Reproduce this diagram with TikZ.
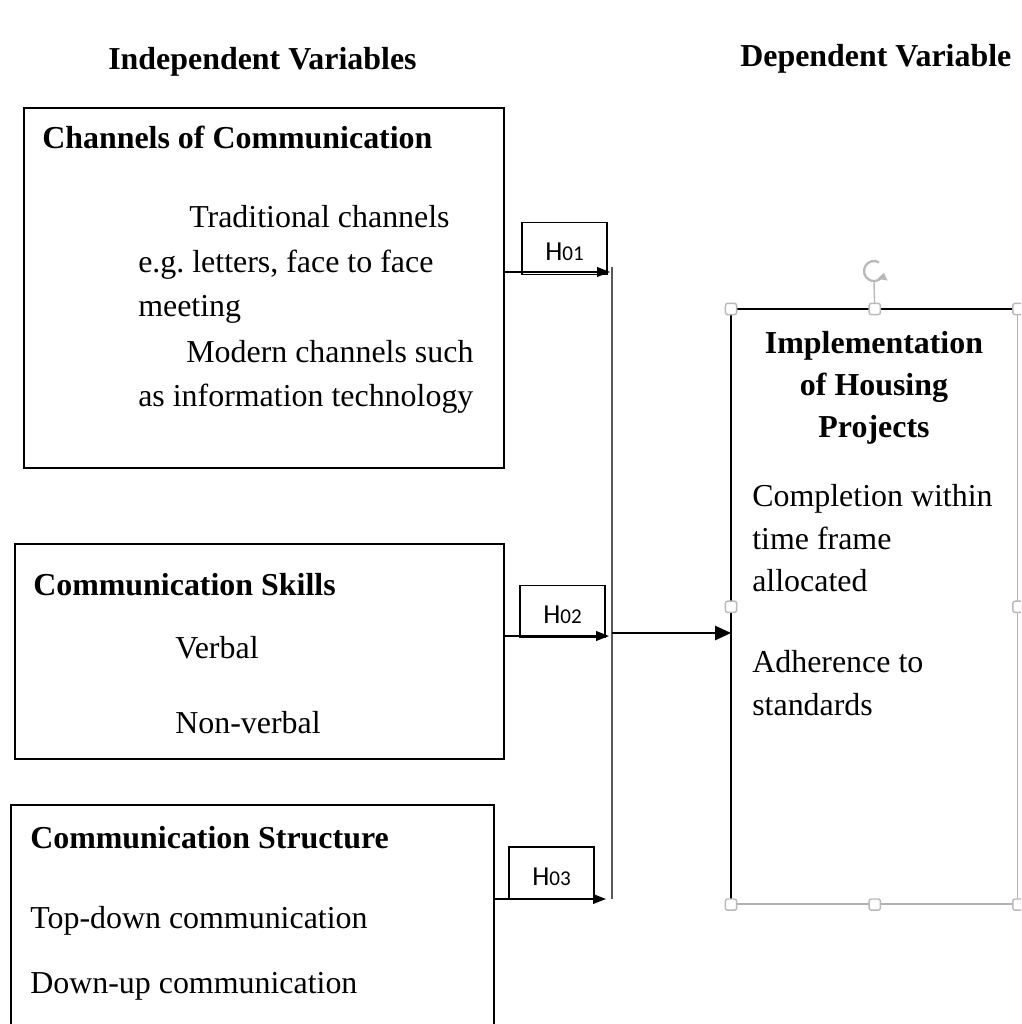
\documentclass[tikz,border=0pt]{standalone}
\usepackage{fontspec}
\setmainfont{Liberation Serif}
\newfontfamily\calibri{Carlito}
\usetikzlibrary{arrows.meta}

\newcommand{\hyp}[1]{{\calibri\fontsize{19.5}{19.5}\selectfont H{\fontsize{15}{15}\selectfont #1}}}

\tikzset{
  box/.style={draw, line width=1.2pt, anchor=north west, inner sep=0pt},
  hbox/.style={draw, line width=1.2pt, minimum width=2.125cm, minimum height=1.3cm,
    text height=0.6cm, text depth=0pt, inner sep=0pt},
  txt/.style={anchor=base west, inner sep=0pt, font=\fontsize{22.7}{31}\selectfont},
  bold/.style={txt, font=\fontsize{22.7}{31}\selectfont\bfseries},
  arr/.style={line width=1.1pt, -{Triangle[length=0.32cm, width=0.24cm]}},
  handle/.style={draw=gray!55, fill=white, line width=1pt, rounded corners=1.5pt,
    minimum size=0.28cm, inner sep=0pt}
}

\begin{document}
\begin{tikzpicture}[x=0.025cm, y=-0.025cm]

    \useasboundingbox (0,0) rectangle (1021,1024);
    \clip (0,0) rectangle (1021,1024);

    % headings
    \node[bold] (indep) at (108,70) {Independent Variables};
    \node[bold] (dep) at (740,67) {Dependent Variable};

    % boxes (variables)
    \node[box, minimum width=12cm, minimum height=9cm] (chan) at (23,107) {};
    \node[bold] (chant) at (42,149) {Channels of Communication};
    \node[txt] (chan1) at (189,228) {Traditional channels};
    \node[txt] (chan2) at (138,272) {e.g.\ letters, face to face};
    \node[txt] (chan3) at (138,316) {meeting};
    \node[txt] (chan4) at (186,362) {Modern channels such};
    \node[txt] (chan5) at (138,406) {as information technology};

    \node[box, minimum width=12.225cm, minimum height=5.375cm] (skill) at (14,543) {};
    \node[bold] (skillt) at (33,595) {Communication Skills};
    \node[txt] (skill1) at (175,658) {Verbal};
    \node[txt] (skill2) at (175,733) {Non-verbal};

    \node[box, minimum width=12.075cm, minimum height=6cm] (struct) at (10,804) {};
    \node[bold] (structt) at (30,848) {Communication Structure};
    \node[txt] (struct1) at (30,928) {Top-down communication};
    \node[txt] (struct2) at (30,993) {Down-up communication};

    \node[draw=gray!60, line width=1pt, anchor=north west, inner sep=0pt,
      minimum width=7.15cm, minimum height=14.85cm] (impl) at (731,309) {};
    \draw[line width=1.2pt] (impl.south west) -- (impl.north west) -- (impl.north east);
    \node[bold, anchor=base] (implt1) at (874,353) {Implementation};
    \node[bold, anchor=base] (implt2) at (874,395) {of Housing};
    \node[bold, anchor=base] (implt3) at (874,437) {Projects};
    \node[txt] (impl1) at (752,506) {Completion within};
    \node[txt] (impl2) at (752,549) {time frame};
    \node[txt] (impl3) at (752,591) {allocated};
    \node[txt] (impl4) at (752,672) {Adherence to};
    \node[txt] (impl5) at (752,715) {standards};

    % hypotheses
    \node[hbox] (h1) at (564.5,248.5) {\hyp{01}};
    \node[hbox] (h2) at (562.5,611.5) {\hyp{02}};
    \node[hbox] (h3) at (551.5,873) {\hyp{03}};

    % edges
    \coordinate (jtop) at (612,267);
    \coordinate (jbot) at (612,899);
    \coordinate (jmid) at (612,633);
    \coordinate (j1) at (610,272);
    \coordinate (j2) at (609,636);
    \coordinate (j3) at (606,899);
    \draw[black!65, line width=1.6pt] (jtop) -- (jbot); % collector
    \draw[arr] (chan.east |- j1) to (j1); % channels -> H01
    \draw[arr] (skill.east |- j2) to (j2); % skills -> H02
    \draw[arr] (struct.east |- j3) to (j3); % structure -> H03
    \draw[line width=1.1pt, -{Triangle[length=0.4cm, width=0.36cm]}] (jmid) to (impl.west |- jmid); % -> implementation

    % selection frame
    \draw[gray!55, line width=1pt] (impl.north) -- (874,282);
    \draw[gray!55, line width=1.6pt, -{Triangle[length=5pt, width=7pt]}]
      (874,271) ++(-60:10) arc (-60:-350:10);
    \foreach \a/\n in {north west/1, north/2, north east/3, west/4, east/5,
      south west/6, south/7, south east/8}
      \node[handle] (hd\n) at (impl.\a) {};

\end{tikzpicture}
\end{document}
